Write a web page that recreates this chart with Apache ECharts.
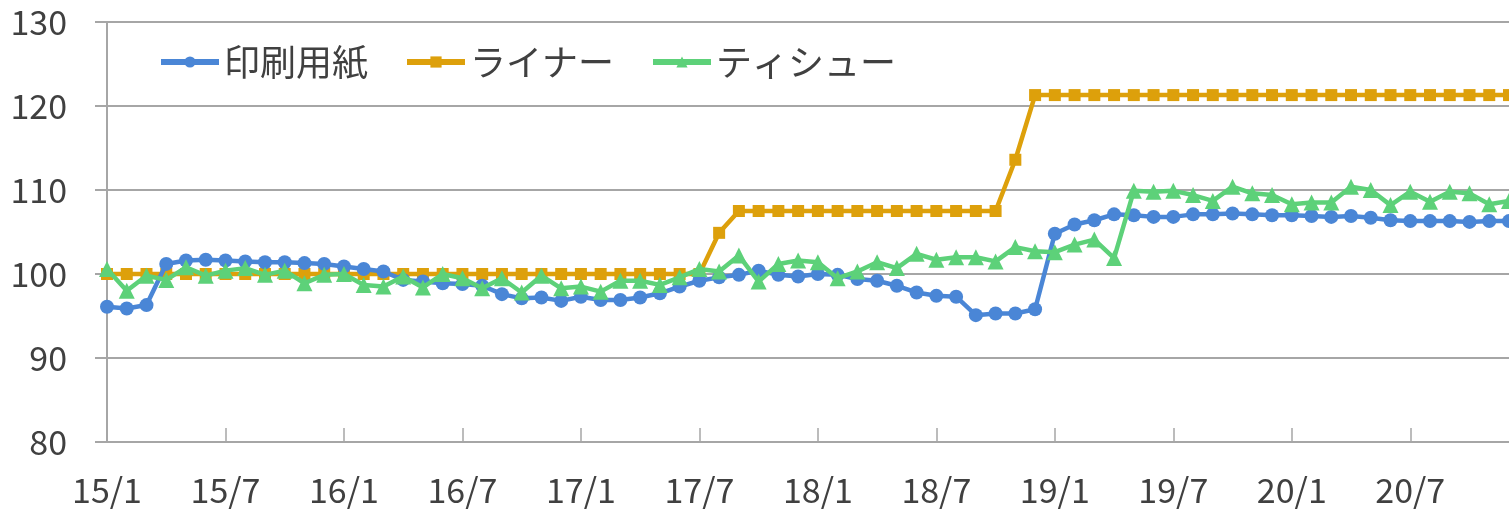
<!DOCTYPE html>
<html>
<head>
<meta charset="utf-8">
<script src="https://cdn.jsdelivr.net/npm/echarts@6/dist/echarts.min.js"></script>
<style>
html,body{margin:0;padding:0;background:#fff;}
#chart{width:1509px;height:513px;}
</style>
</head>
<body>
<div id="chart"></div>
<script>
const categories = [
  "15/1","15/2","15/3","15/4","15/5","15/6","15/7","15/8","15/9","15/10","15/11","15/12",
  "16/1","16/2","16/3","16/4","16/5","16/6","16/7","16/8","16/9","16/10","16/11","16/12",
  "17/1","17/2","17/3","17/4","17/5","17/6","17/7","17/8","17/9","17/10","17/11","17/12",
  "18/1","18/2","18/3","18/4","18/5","18/6","18/7","18/8","18/9","18/10","18/11","18/12",
  "19/1","19/2","19/3","19/4","19/5","19/6","19/7","19/8","19/9","19/10","19/11","19/12",
  "20/1","20/2","20/3","20/4","20/5","20/6","20/7","20/8","20/9","20/10","20/11","20/12"
];
const seriesNames = ["印刷用紙", "ライナー", "ティシュー"];
const printingPaper = [
  96.1, 95.9, 96.3, 101.2, 101.6, 101.7, 101.6, 101.5, 101.4, 101.4, 101.3, 101.2,
  100.9, 100.6, 100.3, 99.3, 99.1, 98.9, 98.8, 98.6, 97.6, 97.1, 97.2, 96.8,
  97.3, 96.9, 96.9, 97.2, 97.7, 98.5, 99.2, 99.6, 99.9, 100.4, 99.9, 99.7,
  100.0, 99.9, 99.4, 99.2, 98.6, 97.8, 97.4, 97.3, 95.1, 95.3, 95.3, 95.8,
  104.8, 105.9, 106.4, 107.1, 107.0, 106.8, 106.8, 107.1, 107.1, 107.2, 107.1, 107.0,
  107.0, 106.9, 106.8, 106.9, 106.7, 106.4, 106.3, 106.3, 106.3, 106.2, 106.3, 106.3
];
const liner = [
  100, 100, 100, 100, 100, 100, 100, 100, 100, 100, 100, 100,
  100, 100, 100, 100, 100, 100, 100, 100, 100, 100, 100, 100,
  100, 100, 100, 100, 100, 100, 100, 104.9, 107.5, 107.5, 107.5, 107.5,
  107.5, 107.5, 107.5, 107.5, 107.5, 107.5, 107.5, 107.5, 107.5, 107.5, 113.6, 121.3,
  121.3, 121.3, 121.3, 121.3, 121.3, 121.3, 121.3, 121.3, 121.3, 121.3, 121.3, 121.3,
  121.3, 121.3, 121.3, 121.3, 121.3, 121.3, 121.3, 121.3, 121.3, 121.3, 121.3, 121.3
];
const tissue = [
  100.6, 98.0, 99.8, 99.3, 100.8, 99.8, 100.4, 100.7, 99.9, 100.4, 98.9, 99.9,
  100.0, 98.7, 98.5, 99.7, 98.4, 100.0, 99.5, 98.3, 99.5, 97.8, 99.8, 98.3,
  98.5, 97.9, 99.2, 99.2, 98.7, 99.6, 100.6, 100.3, 102.2, 99.1, 101.2, 101.6,
  101.4, 99.5, 100.3, 101.4, 100.7, 102.4, 101.7, 102.0, 102.0, 101.5, 103.2, 102.7,
  102.6, 103.5, 104.1, 101.9, 109.9, 109.8, 109.9, 109.4, 108.7, 110.4, 109.6, 109.4,
  108.3, 108.5, 108.5, 110.4, 110.0, 108.2, 109.8, 108.6, 109.8, 109.6, 108.3, 108.7
];
const yTicks = { min: 80, max: 130, interval: 10 };

const colors = ["#4a86d6", "#dda00b", "#5dd179"];
const font = '"Noto Sans CJK JP", "Noto Sans", sans-serif';

const chart = echarts.init(document.getElementById('chart'), null, { renderer: 'canvas' });
chart.setOption({
  animation: false,
  backgroundColor: '#ffffff',
  color: colors,
  textStyle: { fontFamily: font },
  legend: {
    left: 153,
    top: 39,
    itemWidth: 58,
    itemHeight: 14,
    itemGap: 36,
    lineStyle: { width: 6 },
    textStyle: { fontSize: 36, color: '#404040', fontFamily: font },
    data: seriesNames
  },
  grid: { left: 107, right: 0, top: 22, bottom: 71, containLabel: false },
  xAxis: {
    type: 'category',
    data: categories,
    boundaryGap: false,
    axisLine: { show: true, lineStyle: { color: '#a6a6a6', width: 2 } },
    axisTick: { show: true, inside: true, length: 14, interval: 5, lineStyle: { color: '#a6a6a6', width: 1.5 } },
    axisLabel: { interval: 5, fontSize: 34, color: '#404040', margin: 31, fontFamily: font },
    splitLine: { show: false }
  },
  yAxis: {
    type: 'value',
    min: yTicks.min,
    max: yTicks.max,
    interval: yTicks.interval,
    axisLine: { show: true, lineStyle: { color: '#a6a6a6', width: 2 } },
    axisTick: { show: true, inside: false, length: 12, lineStyle: { color: '#a6a6a6', width: 2 } },
    axisLabel: { fontSize: 34, color: '#404040', margin: 40, fontFamily: font },
    splitLine: { show: true, lineStyle: { color: '#a6a6a6', width: 2 } }
  },
  series: [
    {
      name: seriesNames[0], type: 'line', data: printingPaper,
      symbol: 'circle', symbolSize: 14, showAllSymbol: true,
      lineStyle: { width: 4.5, color: colors[0] }, itemStyle: { color: colors[0] }, z: 3
    },
    {
      name: seriesNames[1], type: 'line', data: liner,
      symbol: 'rect', symbolSize: 12, showAllSymbol: true,
      lineStyle: { width: 4.5, color: colors[1] }, itemStyle: { color: colors[1] }, z: 2
    },
    {
      name: seriesNames[2], type: 'line', data: tissue,
      symbol: 'triangle', symbolSize: 16, showAllSymbol: true,
      lineStyle: { width: 4.5, color: colors[2] }, itemStyle: { color: colors[2] }, z: 4
    }
  ]
});
</script>
</body>
</html>
